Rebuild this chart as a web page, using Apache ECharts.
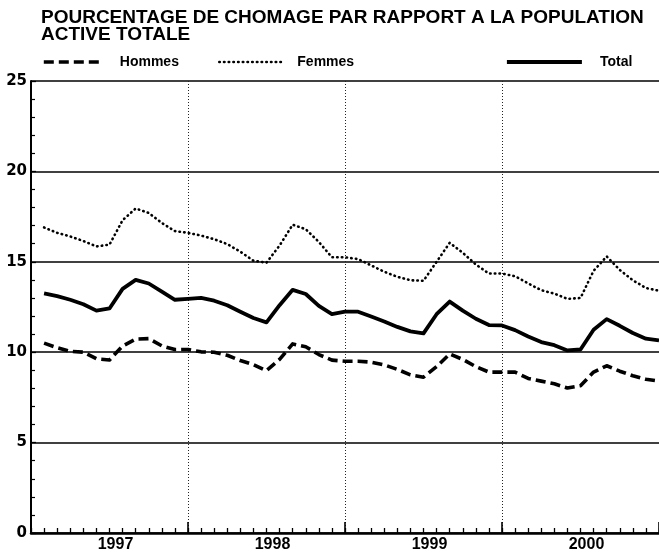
<!DOCTYPE html>
<html><head><meta charset="utf-8">
<script src="https://cdn.jsdelivr.net/npm/echarts@6/dist/echarts.min.js"></script>
<style>html,body{margin:0;padding:0;background:#fff}#c{width:659px;height:553px}</style>
</head><body><div id="c"></div>
<script>
const titleText = 'POURCENTAGE DE CHOMAGE PAR RAPPORT A LA POPULATION\nACTIVE TOTALE';
const years = ['1997', '1998', '1999', '2000'];
const months = ['01','02','03','04','05','06','07','08','09','10','11','12'];
const startCategory = '1996-12';
const hommes = [
  10.5, 10.25, 10.05, 10.0, 9.64, 9.57, 10.34, 10.72, 10.75, 10.35, 10.15, 10.15,
  10.02, 10.0, 9.83, 9.54, 9.31, 8.98, 9.6, 10.46, 10.3, 9.87, 9.56, 9.5,
  9.5, 9.45, 9.3, 9.05, 8.75, 8.62, 9.2, 9.9, 9.6, 9.2, 8.9, 8.9,
  8.9, 8.55, 8.4, 8.25, 8.02, 8.15, 8.9, 9.25, 8.95, 8.7, 8.5, 8.4
];
const femmes = [
  16.9, 16.6, 16.4, 16.15, 15.85, 15.95, 17.3, 17.95, 17.7, 17.15, 16.7, 16.6,
  16.45, 16.25, 15.98, 15.56, 15.06, 14.95, 15.9, 17.05, 16.8, 16.1, 15.25, 15.25,
  15.15, 14.8, 14.45, 14.17, 13.98, 13.95, 15.0, 16.05, 15.5, 14.85, 14.35, 14.35,
  14.2, 13.8, 13.43, 13.24, 12.95, 13.0, 14.5, 15.3, 14.55, 13.98, 13.55, 13.4
];
const total = [
  13.25, 13.1, 12.9, 12.65, 12.3, 12.42, 13.5, 14.0, 13.8, 13.35, 12.9, 12.95,
  13.0, 12.85, 12.6, 12.24, 11.89, 11.65, 12.6, 13.45, 13.22, 12.56, 12.11, 12.24,
  12.24, 11.97, 11.7, 11.4, 11.15, 11.04, 12.1, 12.8, 12.3, 11.85, 11.5, 11.48,
  11.22, 10.87, 10.56, 10.39, 10.1, 10.15, 11.24, 11.83, 11.46, 11.06, 10.75, 10.65
];
const seriesNames = ['Hommes', 'Femmes', 'Total'];

const categories = [startCategory];
years.forEach(y => months.forEach(m => categories.push(y + '-' + m)));
const pad = arr => [null].concat(arr);

const styles = {
  Hommes: { width: 3.6, type: [10, 5], cap: 'butt' },
  Femmes: { width: 2.6, type: [0.5, 4.2], cap: 'round' },
  Total:  { width: 3.8, type: 'solid', cap: 'butt' }
};
const seriesData = { Hommes: hommes, Femmes: femmes, Total: total };

const chart = echarts.init(document.getElementById('c'), null, { renderer: 'canvas' });
const legendCfg = [
  { name: 'Hommes', left: 42, w: 58, pad: 13 },
  { name: 'Femmes', left: 218, w: 64, pad: 9 },
  { name: 'Total', left: 505, w: 75, pad: 13 }
];
chart.setOption({
  animation: false,
  backgroundColor: '#fff',
  title: {
    text: titleText, left: 41, top: 9, padding: 0,
    textStyle: { fontFamily: 'Liberation Sans', fontSize: 19, fontWeight: 'bold', color: '#000', lineHeight: 17 }
  },
  legend: legendCfg.map(l => ({
    data: [l.name], left: l.left, top: 55, padding: 0,
    itemWidth: l.w, itemHeight: 14,
    itemStyle: { opacity: 0, borderWidth: 0 },
    lineStyle: { color: '#000', width: styles[l.name].width, type: styles[l.name].type, cap: styles[l.name].cap },
    textStyle: { fontFamily: 'Liberation Sans', fontSize: 14, fontWeight: 'bold', color: '#000', padding: [0, 0, 0, l.pad] },
    selectedMode: false
  })),
  grid: { left: 31, top: 81, width: 636, height: 452, containLabel: false },
  xAxis: [
    {
      type: 'category', data: categories, boundaryGap: false,
      axisLine: { lineStyle: { color: '#000', width: 2.5 } },
      axisTick: { inside: true, length: 5, interval: 0, lineStyle: { color: '#000', width: 1.3 } },
      axisLabel: {
        interval: (i) => i % 12 === 6,
        formatter: (v) => v.slice(0, 4),
        padding: [0, 0, 0, 12], margin: 4,
        fontFamily: 'Liberation Sans', fontSize: 16, fontWeight: 'bold', color: '#000'
      },
      splitLine: { show: false }
    },
    {
      type: 'category', data: categories, boundaryGap: false, position: 'bottom',
      axisLine: { show: false },
      axisLabel: { show: false },
      axisTick: { inside: true, length: 11, interval: (i) => i % 12 === 0, lineStyle: { color: '#000', width: 1.6 } },
      splitLine: { show: true, interval: (i) => i % 12 === 0 && i > 0, lineStyle: { color: '#222', width: 1, type: [1, 2] } }
    }
  ],
  yAxis: {
    type: 'value', min: 0, max: 25, interval: 5,
    axisLine: { show: true, lineStyle: { color: '#000', width: 2 } },
    axisTick: { show: true, inside: true, length: 5, lineStyle: { color: '#000', width: 1.3 } },
    minorTick: { show: true, splitNumber: 5, length: 4, lineStyle: { color: '#000', width: 1.2 } },
    axisLabel: { margin: 4, fontFamily: 'DejaVu Sans', fontSize: 15, fontWeight: 'bold', color: '#000' },
    splitLine: { show: true, lineStyle: { color: '#000', width: 1.7 } }
  },
  series: seriesNames.map(n => ({
    name: n, type: 'line', xAxisIndex: 0, data: pad(seriesData[n]),
    symbol: 'none', smooth: false, connectNulls: false,
    lineStyle: { color: '#000', width: styles[n].width, type: styles[n].type, cap: styles[n].cap, join: 'round' },
    itemStyle: { color: '#000' },
    z: 3
  }))
});
</script></body></html>
